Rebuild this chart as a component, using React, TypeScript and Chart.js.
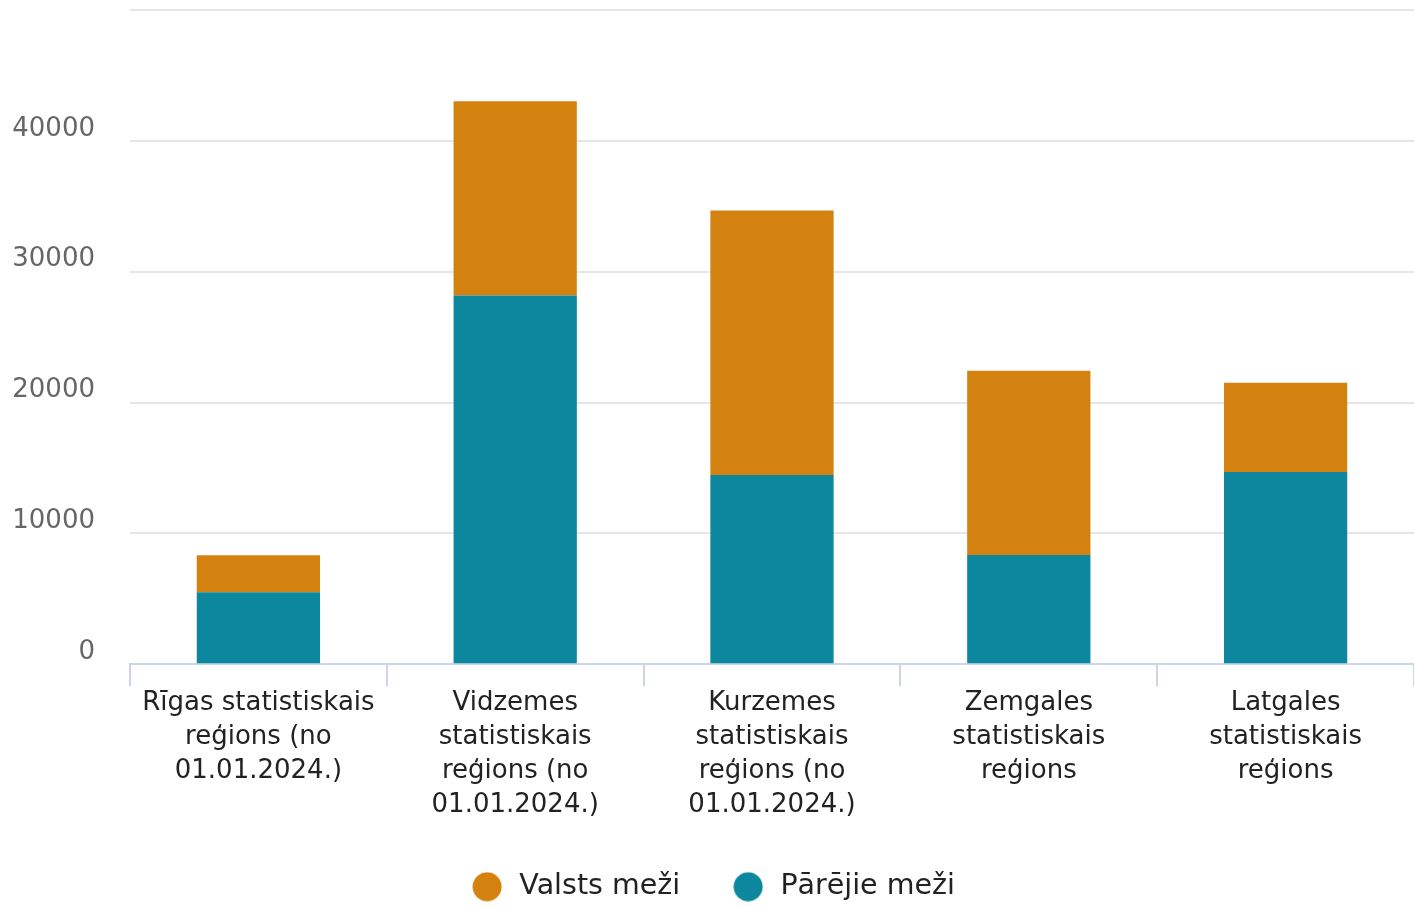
import React, { useEffect, useRef } from "react";
import { Chart, registerables } from "chart.js";

Chart.register(...registerables);

const categories: string[][] = [
  ["Rīgas statistiskais", "reģions (no", "01.01.2024.)"],
  ["Vidzemes", "statistiskais", "reģions (no", "01.01.2024.)"],
  ["Kurzemes", "statistiskais", "reģions (no", "01.01.2024.)"],
  ["Zemgales", "statistiskais", "reģions"],
  ["Latgales", "statistiskais", "reģions"],
];

const valstsMezi = [2830, 14850, 20210, 14090, 6820];
const parejieMezi = [5510, 28180, 14470, 8350, 14700];

const yTicks = [0, 10000, 20000, 30000, 40000, 50000];

const FONT = "'DejaVu Sans', Verdana, sans-serif";
const TEAL = "#0D879D";
const ORANGE = "#D4820F";

function dot(color: string): HTMLCanvasElement {
  const c = document.createElement("canvas");
  c.width = 30;
  c.height = 30;
  const ctx = c.getContext("2d")!;
  ctx.fillStyle = color;
  ctx.beginPath();
  ctx.arc(15, 15, 14.5, 0, Math.PI * 2);
  ctx.fill();
  return c;
}

export default function App() {
  const ref = useRef<HTMLCanvasElement | null>(null);

  useEffect(() => {
    if (!ref.current) return;
    const chart = new Chart(ref.current, {
      type: "bar",
      data: {
        labels: categories,
        datasets: [
          {
            label: "Pārējie meži",
            data: parejieMezi,
            backgroundColor: TEAL,
            pointStyle: dot(TEAL),
            barPercentage: 0.48,
            categoryPercentage: 1,
          },
          {
            label: "Valsts meži",
            data: valstsMezi,
            backgroundColor: ORANGE,
            pointStyle: dot(ORANGE),
            barPercentage: 0.48,
            categoryPercentage: 1,
          },
        ],
      },
      options: {
        animation: false,
        responsive: true,
        maintainAspectRatio: false,
        layout: { padding: { top: 10, right: 0, left: 10, bottom: -5 } },
        plugins: {
          tooltip: { enabled: false },
          legend: {
            position: "bottom",
            reverse: true,
            labels: {
              usePointStyle: true,
              pointStyleWidth: 36,
              boxHeight: 20,
              padding: 50,
              color: "#222222",
              font: { family: FONT, size: 28.5 },
            },
          },
        },
        scales: {
          x: {
            stacked: true,
            offset: true,
            grid: {
              offset: true,
              drawOnChartArea: false,
              drawTicks: true,
              tickLength: 22,
              color: "#ccd6eb",
              lineWidth: 2,
            },
            border: { display: true, color: "#ccd6eb", width: 2 },
            ticks: {
              color: "#222222",
              padding: 0,
              maxRotation: 0,
              autoSkip: false,
              font: { family: FONT, size: 26, lineHeight: 1.31 },
            },
          },
          y: {
            stacked: true,
            min: 0,
            max: 50000,
            afterBuildTicks: (scale: any) => {
              scale.ticks = yTicks.map((v) => ({ value: v }));
            },
            afterFit: (scale: any) => {
              scale.width = 120;
              scale.paddingTop = 0;
              scale.paddingBottom = 0;
            },
            grid: {
              color: "#e6e6e6",
              lineWidth: 2,
              drawTicks: false,
            },
            border: { display: false },
            ticks: {
              color: "#666666",
              padding: 35,
              labelOffset: -12,
              font: { family: FONT, size: 26 },
              callback: (v: any) => (Number(v) === 50000 ? "" : String(v)),
            },
          },
        },
      },
    } as any);
    return () => chart.destroy();
  }, []);

  return (
    <div style={{ position: "absolute", left: 0, top: 0, width: 1414, height: 906, background: "#fff" }}>
      <canvas ref={ref} />
    </div>
  );
}
